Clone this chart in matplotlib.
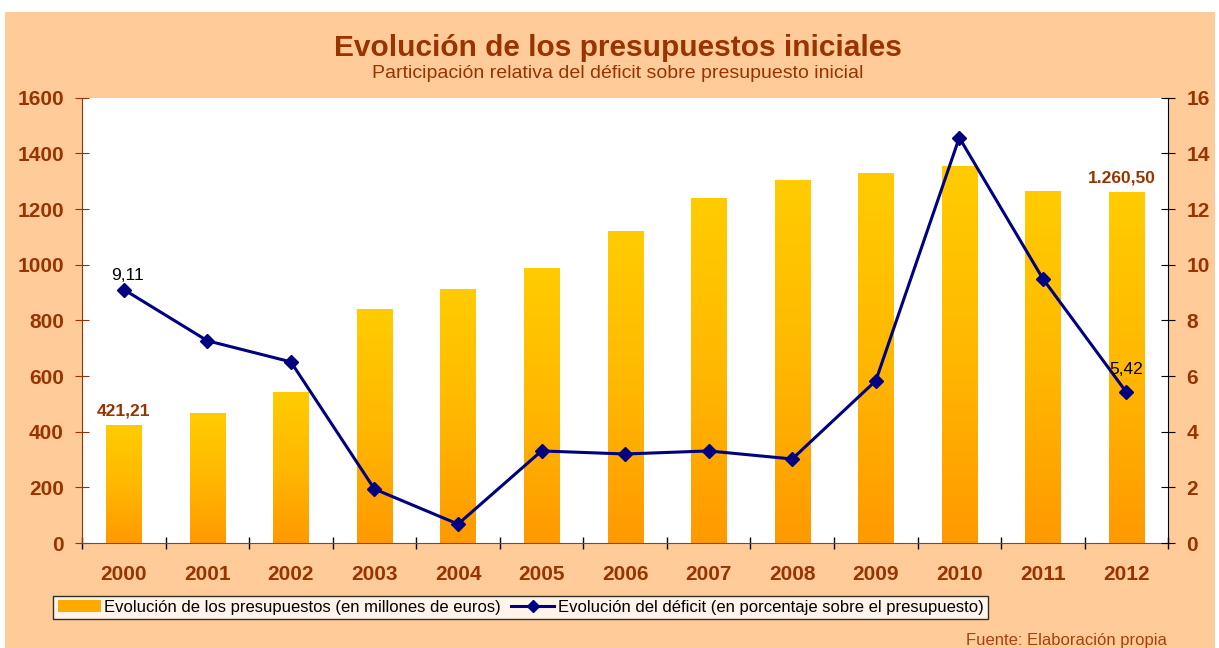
import numpy as np
import matplotlib.pyplot as plt
from matplotlib.colors import LinearSegmentedColormap
from matplotlib.patches import Rectangle
from matplotlib.lines import Line2D

plt.rcParams['font.family'] = ['Liberation Sans', 'DejaVu Sans']

years = ['2000', '2001', '2002', '2003', '2004', '2005', '2006',
         '2007', '2008', '2009', '2010', '2011', '2012']
presupuesto = [421.21, 464, 540, 838, 910, 986, 1119, 1237, 1302, 1327, 1352, 1263, 1260.50]
deficit = [9.11, 7.27, 6.51, 1.94, 0.68, 3.31, 3.20, 3.31, 3.02, 5.83, 14.57, 9.50, 5.42]

brown = '#993300'
peach = '#FFCC99'

fig = plt.figure(figsize=(12.19, 6.48), dpi=100)
fig.patch.set_facecolor('white')
# panel de fondo
fig.patches.append(Rectangle((0.004, 0.0), 0.993, 0.981, transform=fig.transFigure,
                             facecolor=peach, edgecolor='none', zorder=-10))

ax = fig.add_axes([0.0673, 0.162, 0.891, 0.687])
ax.set_facecolor('white')
x = np.arange(len(years))
w = 0.42
cmap = LinearSegmentedColormap.from_list('bar', ['#FF9900', '#FFB800', '#FFCC00'])
grad = np.linspace(0, 1, 256).reshape(-1, 1)
for xi, v in zip(x, presupuesto):
    ax.imshow(grad, cmap=cmap, origin='lower', aspect='auto',
              extent=(xi - w / 2, xi + w / 2, 0, v), zorder=2)

ax.set_xlim(-0.5, len(years) - 0.5)
ax.set_ylim(0, 1600)
ax.set_yticks(range(0, 1601, 200))
ax.set_xticks(x)
ax.set_xticklabels(years)
ax.set_xticks(np.arange(-0.5, len(years), 1), minor=True)
ax.tick_params(axis='x', which='major', length=0, pad=16, labelsize=15, labelcolor=brown)
ax.tick_params(axis='x', which='minor', length=8, direction='inout', color='black', width=1)
ax.tick_params(axis='y', length=10, direction='inout', color=brown, labelsize=15,
               labelcolor=brown, pad=8)
for lab in ax.get_xticklabels() + ax.get_yticklabels():
    lab.set_fontweight('bold')
ax.spines['top'].set_visible(False)
ax.spines['right'].set_visible(False)
ax.spines['left'].set_color(brown)
ax.spines['bottom'].set_color('#555555')

ax2 = ax.twinx()
ax2.plot(x, deficit, color='#000080', lw=2.2, marker='D', markersize=7, zorder=5)
ax2.set_ylim(0, 16)
ax2.set_yticks(range(0, 17, 2))
ax2.tick_params(axis='y', length=10, direction='inout', color='black', labelsize=15,
                labelcolor=brown, pad=8)
for lab in ax2.get_yticklabels():
    lab.set_fontweight('bold')
for s in ['top', 'left', 'bottom']:
    ax2.spines[s].set_visible(False)
ax2.spines['right'].set_color('black')

# etiquetas de datos
ax.text(x[0], presupuesto[0] + 25, '421,21', ha='center', va='bottom',
        color=brown, fontsize=12.5, fontweight='bold')
ax.text(x[-1] - 0.05, presupuesto[-1] + 25, '1.260,50', ha='center', va='bottom',
        color=brown, fontsize=12.5, fontweight='bold')
ax2.text(x[0] + 0.05, deficit[0] + 0.25, '9,11', ha='center', va='bottom', fontsize=12.5)
ax2.text(x[-1], deficit[-1] + 0.55, '5,42', ha='center', va='bottom', fontsize=12.5)

fig.text(0.507, 0.914, 'Evolución de los presupuestos iniciales', ha='center',
         fontsize=21.5, fontweight='bold', color=brown)
fig.text(0.507, 0.879, 'Participación relativa del déficit sobre presupuesto inicial',
         ha='center', fontsize=14, color=brown)
fig.text(0.957, 0.005, 'Fuente: Elaboración propia', ha='right', fontsize=12,
         color='#A8400F')

handles = [Rectangle((0, 0), 1, 1, facecolor='#FFAA00', edgecolor='none'),
           Line2D([], [], color='#000080', lw=2.2, marker='D', markersize=6)]
labels = ['Evolución de los presupuestos (en millones de euros)',
          'Evolución del déficit (en porcentaje sobre el presupuesto)']
leg = fig.legend(handles, labels, loc='lower left', bbox_to_anchor=(0.037, 0.032),
                 ncol=2, frameon=True, fancybox=False, fontsize=12,
                 handlelength=2.6, handletextpad=0.2, columnspacing=0.6,
                 borderpad=0.25, edgecolor='black')
leg.get_frame().set_linewidth(1.0)

fig.savefig('out.png', dpi=100, facecolor=fig.get_facecolor())
